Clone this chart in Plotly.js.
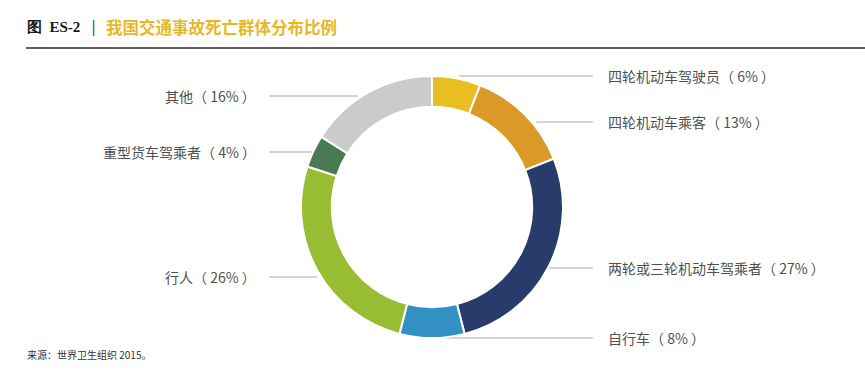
<!DOCTYPE html>
<html>
<head>
<meta charset="utf-8">
<script src="https://cdn.plot.ly/plotly-3.0.1.min.js"></script>
<style>html,body{margin:0;padding:0;background:#fff;}#chart{width:865px;height:391px;}</style>
</head>
<body>
<div id="chart"></div>
<script>
// ---- data ----
const categories = ["四轮机动车驾驶员", "四轮机动车乘客", "两轮或三轮机动车驾乘者", "自行车", "行人", "重型货车驾乘者", "其他"];
const values = [6, 13, 27, 8, 26, 4, 16];
const colors = ["#E8BE22", "#DB9A27", "#283B6A", "#3390C3", "#98BD33", "#4A7A52", "#CBCBCB"];

// ---- label layout (pixel positions for callouts, not data) ----
const W = 865, H = 391;
const cx = 432, cy = 207, R = 131;
const labelSide = ["r", "r", "r", "r", "l", "l", "l"];
const labelY = [76, 122, 268, 338, 277, 152, 96];
const lineInner = [459, 536, 549, 447, 317, 312, 358];
const rightLineEnd = 593, rightTextX = 606;
const leftLineEnd = 269, leftTextX = 258;

const px = x => x / W;
const py = y => 1 - y / H;

const shapes = [];
const annotations = [];
categories.forEach((c, i) => {
  const right = labelSide[i] === "r";
  shapes.push({
    type: "line", xref: "paper", yref: "paper",
    x0: px(lineInner[i]), x1: px(right ? rightLineEnd : leftLineEnd),
    y0: py(labelY[i]), y1: py(labelY[i]),
    line: {color: "#ABABAB", width: 1.2}, layer: "below"
  });
  annotations.push({
    xref: "paper", yref: "paper",
    x: px(right ? rightTextX : leftTextX), y: py(labelY[i]),
    xanchor: right ? "left" : "right", yanchor: "middle",
    text: c + "（ " + values[i] + "% ）",
    showarrow: false,
    font: {family: "Noto Sans CJK SC, sans-serif", size: 14, color: "#505050"}
  });
});

// title & source
annotations.push({xref:"paper", yref:"paper", x: px(25), y: py(27), xanchor:"left", yanchor:"middle",
  text:"<b>图  ES-2</b>", showarrow:false, font:{family:"Liberation Serif, serif", size:15, color:"#1a1a1a"}});
annotations.push({xref:"paper", yref:"paper", x: px(93), y: py(27), xanchor:"center", yanchor:"middle",
  text:"|", showarrow:false, font:{family:"DejaVu Sans, sans-serif", size:15, color:"#1f5fa8"}});
annotations.push({xref:"paper", yref:"paper", x: px(104), y: py(27), xanchor:"left", yanchor:"middle",
  text:"<b>我国交通事故死亡群体分布比例</b>", showarrow:false,
  font:{family:"Noto Sans CJK SC, sans-serif", size:16.5, color:"#E8B822"}});
annotations.push({xref:"paper", yref:"paper", x: px(25), y: py(354), xanchor:"left", yanchor:"middle",
  text:"来源：世界卫生组织 2015。", showarrow:false,
  font:{family:"Noto Sans CJK SC, sans-serif", size:10, color:"#333"}});
shapes.push({type:"line", xref:"paper", yref:"paper", x0: px(26), x1: 1, y0: py(48), y1: py(48),
  line:{color:"#2a2a2a", width:1.5}});

const data = [{
  type: "pie",
  labels: categories,
  values: values,
  sort: false,
  direction: "clockwise",
  rotation: 0,
  hole: 0.765,
  textinfo: "none",
  hoverinfo: "label+percent",
  marker: {colors: colors, line: {color: "#ffffff", width: 2}},
  domain: {x: [px(cx - R), px(cx + R)], y: [py(cy + R), py(cy - R)]}
}];

const layout = {
  width: W, height: H,
  margin: {l: 0, r: 0, t: 0, b: 0},
  showlegend: false,
  paper_bgcolor: "#fff",
  shapes: shapes,
  annotations: annotations
};

Plotly.newPlot("chart", data, layout, {displayModeBar: false, staticPlot: true});
</script>
</body>
</html>
